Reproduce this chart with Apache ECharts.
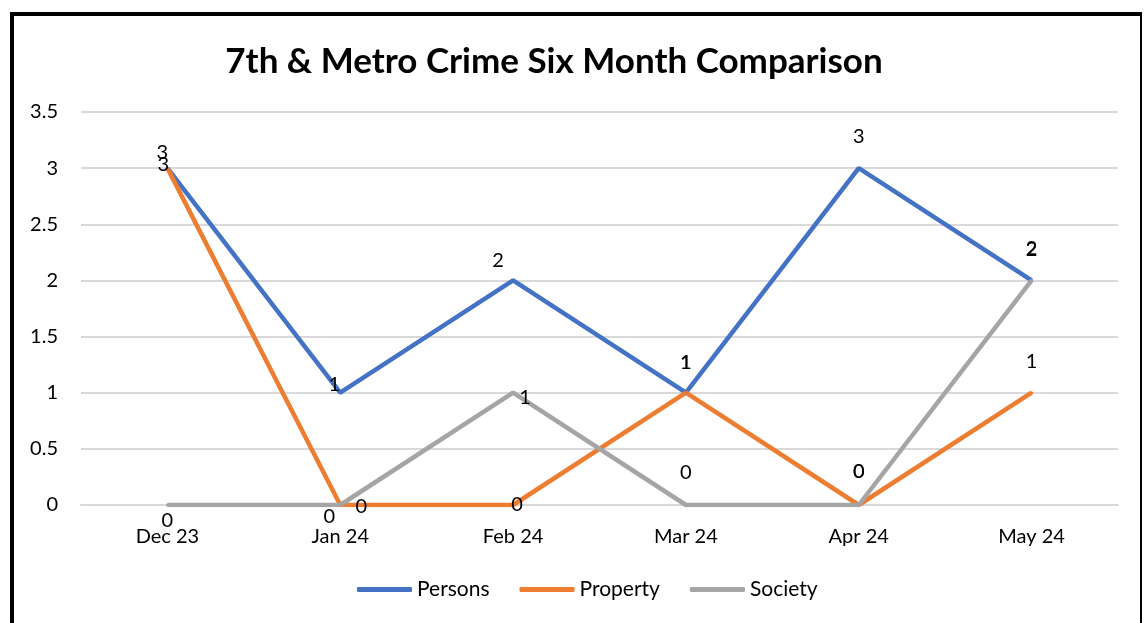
<!DOCTYPE html>
<html>
<head>
<meta charset="utf-8">
<script src="https://cdn.jsdelivr.net/npm/echarts@6/dist/echarts.min.js"></script>
<style>
  html, body { margin: 0; padding: 0; background: #fff; }
  #chart { width: 1147px; height: 623px; }
  #frame {
    position: absolute; left: 10px; top: 12px; width: 1126px; height: 640px;
    border-left: 4px solid #000; border-top: 4px solid #000; border-right: 2px solid #000;
    pointer-events: none;
  }
</style>
</head>
<body>
<div id="chart"></div>
<div id="frame"></div>
<script>
  var months = ['Dec 23', 'Jan 24', 'Feb 24', 'Mar 24', 'Apr 24', 'May 24']
  var persons = [3, 1, 2, 1, 3, 2]
  var property = [3, 0, 0, 1, 0, 1]
  var society = [0, 0, 1, 0, 0, 2]

  var FONT = 'Lato'

  // label nudges, per point (copied off the Excel layout)
  var nudge = {
    Persons: [[-5, -16], [-6, -8], [-15, -20], [0, -30], [0, -32], [0, -32]],
    Property: [[-4, -4], [21, 2], [4, 0], [0, -30], [0, -33], [0, -31]],
    Society: [[0, 16], [-11, 12], [12, 5], [0, -32], [0, -33], [0, -31]]
  }

  function makeSeries(name, values, color) {
    return {
      name: name,
      type: 'line',
      symbol: 'circle',
      symbolSize: 3,
      showSymbol: true,
      itemStyle: { color: color },
      lineStyle: { width: 4.5, color: color },
      data: values.map(function (v, i) {
        return {
          value: v,
          label: { offset: nudge[name][i] }
        }
      }),
      label: {
        show: true,
        position: 'inside',
        color: '#000',
        fontFamily: FONT,
        fontSize: 20
      }
    }
  }

  var chart = echarts.init(document.getElementById('chart'))
  chart.setOption({
    backgroundColor: '#fff',
    animation: false,
    title: {
      text: '7th & Metro Crime Six Month Comparison',
      left: 549,
      textAlign: 'center',
      top: 39,
      textStyle: {
        fontFamily: FONT,
        fontWeight: 'bold',
        fontSize: 35,
        color: '#000'
      }
    },
    legend: {
      bottom: 18,
      left: 352,
      icon: 'roundRect',
      itemWidth: 55,
      itemHeight: 5,
      itemGap: 30,
      textStyle: { fontFamily: FONT, fontSize: 21, color: '#000' },
      data: ['Persons', 'Property', 'Society']
    },
    grid: {
      left: 81,
      right: 29,
      top: 112,
      bottom: 118,
      containLabel: false
    },
    xAxis: {
      type: 'category',
      boundaryGap: true,
      data: months,
      axisLine: { lineStyle: { color: '#d9d9d9', width: 2 } },
      axisTick: { show: false },
      axisLabel: { margin: 22, fontFamily: FONT, fontSize: 20, color: '#000' }
    },
    yAxis: {
      type: 'value',
      min: 0,
      max: 3.5,
      interval: 0.5,
      axisLine: { show: false },
      axisTick: { show: false },
      splitLine: { lineStyle: { color: '#d9d9d9', width: 2 } },
      axisLabel: { margin: 23, fontFamily: FONT, fontSize: 20, color: '#000' }
    },
    series: [
      makeSeries('Persons', persons, '#4472c4'),
      makeSeries('Property', property, '#ed7d31'),
      makeSeries('Society', society, '#a5a5a5')
    ]
  })
</script>
</body>
</html>
